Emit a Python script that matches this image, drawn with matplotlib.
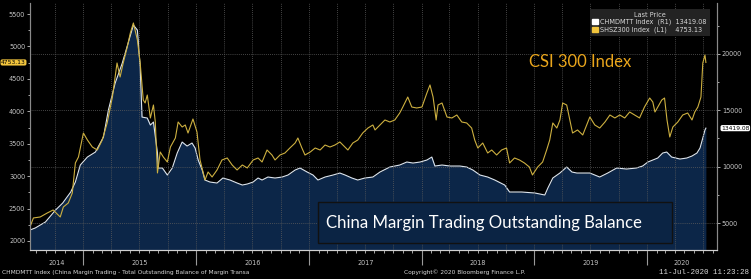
import numpy as np
import pandas as pd
import matplotlib
matplotlib.use('Agg')
import matplotlib.pyplot as plt
import matplotlib.dates as mdates
from matplotlib.patches import Patch, Rectangle
from matplotlib.ticker import MultipleLocator, NullFormatter
from matplotlib.transforms import blended_transform_factory

plt.rcParams['font.family'] = ['Liberation Sans Narrow', 'DejaVu Sans']

#### Data
csi_dates = ['2014-07-12', '2014-07-23', '2014-08-14', '2014-09-06', '2014-09-25', '2014-10-18',
             '2014-10-28', '2014-11-13', '2014-11-26', '2014-12-06', '2014-12-16', '2015-01-01',
             '2015-01-14', '2015-01-30', '2015-02-15', '2015-03-03', '2015-03-19', '2015-04-05',
             '2015-04-20', '2015-04-30', '2015-05-10', '2015-05-23', '2015-06-02', '2015-06-12',
             '2015-06-25', '2015-07-04', '2015-07-14', '2015-07-20', '2015-07-27', '2015-08-06',
             '2015-08-16', '2015-08-22', '2015-08-29', '2015-09-07', '2015-09-17', '2015-09-30',
             '2015-10-10', '2015-10-26', '2015-11-04', '2015-11-17', '2015-11-27', '2015-12-06',
             '2015-12-22', '2016-01-04', '2016-01-14', '2016-01-30', '2016-02-09', '2016-02-22',
             '2016-03-09', '2016-03-25', '2016-04-11', '2016-04-27', '2016-05-13', '2016-05-30',
             '2016-06-15', '2016-07-04', '2016-07-20', '2016-08-02', '2016-08-18', '2016-09-03',
             '2016-09-13', '2016-09-29', '2016-10-15', '2016-10-31', '2016-11-17', '2016-11-26',
             '2016-12-09', '2016-12-19', '2017-01-05', '2017-01-21', '2017-02-06', '2017-02-22',
             '2017-03-10', '2017-03-26', '2017-04-11', '2017-04-21', '2017-05-07', '2017-05-23',
             '2017-06-08', '2017-06-24', '2017-07-11', '2017-07-27', '2017-08-03', '2017-08-19',
             '2017-09-04', '2017-09-20', '2017-10-06', '2017-10-22', '2017-11-01', '2017-11-17',
             '2017-11-30', '2017-12-16', '2018-01-02', '2018-01-18', '2018-01-28', '2018-02-07',
             '2018-02-17', '2018-02-23', '2018-03-08', '2018-03-24', '2018-04-09', '2018-04-25',
             '2018-05-11', '2018-05-27', '2018-06-12', '2018-06-22', '2018-07-02', '2018-07-18',
             '2018-08-03', '2018-08-16', '2018-09-01', '2018-09-17', '2018-10-03', '2018-10-13',
             '2018-10-29', '2018-11-14', '2018-11-30', '2018-12-16', '2018-12-26', '2019-01-12',
             '2019-01-28', '2019-02-10', '2019-02-20', '2019-03-02', '2019-03-15', '2019-03-25',
             '2019-04-03', '2019-04-16', '2019-04-26', '2019-05-05', '2019-05-21', '2019-06-07',
             '2019-06-20', '2019-06-30', '2019-07-16', '2019-08-01', '2019-08-18', '2019-09-03',
             '2019-09-19', '2019-10-05', '2019-10-21', '2019-11-06', '2019-11-22', '2019-12-08',
             '2019-12-24', '2020-01-10', '2020-01-20', '2020-01-27', '2020-02-05', '2020-02-18',
             '2020-02-27', '2020-03-06', '2020-03-15', '2020-03-25', '2020-04-10', '2020-04-26',
             '2020-05-12', '2020-05-26', '2020-06-04', '2020-06-14', '2020-06-24', '2020-06-27',
             '2020-06-30', '2020-07-07', '2020-07-10']
csi_close = [2216, 2355, 2370, 2432, 2478, 2370, 2524, 2586, 2740, 3203, 3295, 3665,
             3557, 3449, 3403, 3557, 3820, 4220, 4745, 4529, 4745, 4991, 5207, 5362,
             5099, 4745, 4174, 4128, 4251, 3897, 4097, 3835, 3049, 3372, 3295, 3218,
             3449, 3588, 3835, 3758, 3789, 3665, 3881, 3681, 3249, 2941, 3064, 2987,
             3095, 3249, 3280, 3172, 3095, 3172, 3126, 3249, 3280, 3218, 3403, 3326,
             3249, 3326, 3357, 3434, 3511, 3588, 3434, 3326, 3372, 3434, 3403, 3480,
             3449, 3480, 3527, 3480, 3403, 3511, 3557, 3665, 3742, 3789, 3712, 3789,
             3866, 3835, 3866, 3974, 4066, 4220, 4066, 4051, 4066, 4282, 4406, 4220,
             3866, 4097, 4128, 3912, 3897, 3943, 3835, 3820, 3742, 3557, 3434, 3511,
             3357, 3403, 3326, 3403, 3434, 3203, 3280, 3249, 3203, 3141, 3018, 3141,
             3218, 3403, 3557, 3820, 3742, 3866, 4128, 4097, 3866, 3665, 3712, 3635,
             3789, 3912, 3789, 3742, 3835, 3943, 3897, 3943, 3897, 3989, 3943, 3897,
             4066, 4205, 4143, 3989, 4066, 4174, 4205, 3866, 3604, 3758, 3835, 3943,
             3974, 3866, 3989, 4066, 4220, 4483, 4745, 4868, 4753.13]

margin_dates = ['2014-07-12', '2014-07-29', '2014-08-31', '2014-10-03', '2014-10-26', '2014-11-21',
                '2014-12-06', '2014-12-22', '2015-01-14', '2015-02-09', '2015-03-07', '2015-03-23',
                '2015-04-14', '2015-05-07', '2015-05-26', '2015-06-12', '2015-06-25', '2015-07-04',
                '2015-07-10', '2015-07-27', '2015-08-06', '2015-08-16', '2015-08-29', '2015-09-01',
                '2015-09-14', '2015-09-30', '2015-10-16', '2015-11-01', '2015-11-17', '2015-12-03',
                '2015-12-19', '2015-12-29', '2016-01-08', '2016-01-21', '2016-01-30', '2016-02-15',
                '2016-03-09', '2016-03-28', '2016-04-20', '2016-05-13', '2016-05-30', '2016-06-15',
                '2016-07-04', '2016-07-20', '2016-08-02', '2016-08-21', '2016-09-13', '2016-10-06',
                '2016-10-25', '2016-11-17', '2016-12-03', '2016-12-26', '2017-01-14', '2017-01-30',
                '2017-02-22', '2017-03-20', '2017-04-11', '2017-04-28', '2017-05-20', '2017-06-08',
                '2017-07-01', '2017-07-27', '2017-08-19', '2017-09-20', '2017-10-22', '2017-11-14',
                '2017-12-04', '2017-12-27', '2018-01-18', '2018-02-03', '2018-02-13', '2018-03-08',
                '2018-04-03', '2018-05-05', '2018-05-27', '2018-06-16', '2018-07-09', '2018-08-03',
                '2018-08-26', '2018-09-27', '2018-10-13', '2018-11-21', '2019-01-03', '2019-02-04',
                '2019-02-14', '2019-03-02', '2019-03-25', '2019-04-16', '2019-05-03', '2019-05-19',
                '2019-06-30', '2019-08-01', '2019-08-27', '2019-09-25', '2019-10-27', '2019-11-28',
                '2019-12-18', '2020-01-04', '2020-01-20', '2020-02-05', '2020-02-21', '2020-03-05',
                '2020-03-21', '2020-04-17', '2020-05-09', '2020-05-26', '2020-06-11', '2020-06-21',
                '2020-06-30', '2020-07-07', '2020-07-10']
margin_bal = [4379, 4556, 5089, 6153, 6774, 7750, 8637, 10145, 10854, 11298, 12628, 15023,
              17418, 19192, 20966, 22563, 22119, 18837, 14402, 14314, 13693, 13959, 11209, 9879,
              9879, 9258, 9879, 11209, 12185, 11830, 12096, 11653, 10588, 9701, 8814, 8637,
              8548, 8992, 8814, 8548, 8371, 8459, 8637, 8992, 8814, 9080, 8992, 9080,
              9258, 9701, 9879, 9524, 9258, 8814, 9080, 9258, 9435, 9258, 8992, 8814,
              8992, 9080, 9524, 9967, 10145, 10411, 10322, 10411, 10588, 10854, 10056, 10145,
              10056, 10056, 9967, 9701, 9258, 9080, 8814, 8371, 7750, 7750, 7661, 7484,
              8104, 8992, 9435, 9967, 9524, 9435, 9435, 9080, 9435, 9879, 9790, 9879,
              10056, 10411, 10588, 10766, 11209, 11298, 10854, 10677, 10766, 10943, 11209, 11653,
              12540, 13250, 13419.08]

years = [2014, 2015, 2016, 2017, 2018, 2019, 2020]
csi_ticks = [2000, 2500, 3000, 3500, 4000, 4500, 5000, 5500]
margin_ticks = [5000, 10000, 15000, 20000]

#### Colours
bg = 'black'
fill_col = '#0c2648'
white_line = '#dde6f0'
gold_line = '#cdb040'
tick_col = '#c4c4c4'
grid_col = '#5c5c5c'
small = 4.7

csi_x = pd.to_datetime(csi_dates)
mar_x = pd.to_datetime(margin_dates)
x_start = pd.Timestamp('2014-07-12')
x_end = pd.Timestamp('2020-08-15')

fig = plt.figure(figsize=(7.51, 2.79), dpi=100, facecolor=bg)
ax = fig.add_axes([30 / 751, 29 / 279, 687 / 751, 247 / 279])
ax2 = ax.twinx()
ax.set_zorder(ax2.get_zorder() + 1)
ax.patch.set_visible(False)
ax2.patch.set_facecolor(bg)

# margin balance, right axis, filled
ax2.fill_between(mar_x, margin_bal, 0, color=fill_col, lw=0)
ax2.plot(mar_x, margin_bal, color=white_line, lw=0.8)
ax2.set_ylim(2604, 24525)
ax2.set_axisbelow(False)
ax2.yaxis.set_major_locator(plt.FixedLocator(margin_ticks))
ax2.yaxis.set_minor_locator(MultipleLocator(2500))
ax2.grid(axis='y', color=grid_col, ls=(0, (1, 1.5)), lw=0.6)

# CSI 300, left axis
ax.plot(csi_x, csi_close, color=gold_line, lw=0.8)
ax.set_ylim(1861, 5670)
ax.yaxis.set_major_locator(plt.FixedLocator(csi_ticks))
ax.yaxis.set_minor_locator(MultipleLocator(250))
ax.set_xlim(x_start, x_end)

# quarterly vertical grid
for q in pd.date_range('2014-10-01', '2020-07-01', freq='QS'):
    ax.axvline(q, color=grid_col, ls=(0, (1, 1.5)), lw=0.6, zorder=0.5)

ax.xaxis.set_major_locator(mdates.YearLocator())
ax.xaxis.set_minor_locator(mdates.MonthLocator())
ax.xaxis.set_major_formatter(NullFormatter())
ax.tick_params(axis='x', which='major', length=11, color='#9a9a9a', width=0.8)
ax.tick_params(axis='x', which='minor', length=2.5, color=tick_col, width=0.6)
ax.tick_params(axis='y', which='both', colors=tick_col, labelsize=small, length=2.5, width=0.6, pad=1)
ax.tick_params(axis='y', which='minor', length=1.5)
ax2.tick_params(axis='y', which='both', colors=tick_col, labelsize=small, length=2.5, width=0.6, pad=1)
ax2.tick_params(axis='y', which='minor', length=1.5)

xform = blended_transform_factory(ax.transData, ax.transAxes)
for y in years:
    a = max(pd.Timestamp(y, 1, 1), x_start)
    b = min(pd.Timestamp(y + 1, 1, 1), x_end)
    ax.text(a + (b - a) / 2, -0.053, str(y), transform=xform, ha='center', va='center',
            color=tick_col, fontsize=small)

for a in (ax, ax2):
    a.spines['top'].set_visible(False)
    a.spines['left'].set_color('#8a8a8a')
    a.spines['right'].set_color('#8a8a8a')
    a.spines['bottom'].set_color('#d0d0d0')
    for s in a.spines.values():
        s.set_linewidth(0.8)

# last value tags
ytf = blended_transform_factory(ax.transAxes, ax.transData)
ax.text(-0.006, csi_close[-1], '%.2f' % csi_close[-1], transform=ytf, ha='right', va='center',
        fontsize=4.3, color='black',
        bbox=dict(boxstyle='round,pad=0.1,rounding_size=0.3', fc='#f2c53d', ec='none'))
ytf2 = blended_transform_factory(ax2.transAxes, ax2.transData)
ax2.text(1.006, margin_bal[-1], '%.2f' % margin_bal[-1], transform=ytf2, ha='left', va='center',
         fontsize=4.3, color='black',
         bbox=dict(boxstyle='round,pad=0.1,rounding_size=0.3', fc='white', ec='none'))

# legend
handles = [Patch(color='white'), Patch(color='#f2c53d')]
labels = ['CHMDMTT Index  (R1)  %.2f' % margin_bal[-1], 'SHSZ300 Index  (L1)    %.2f' % csi_close[-1]]
leg = ax.legend(handles, labels, title='Last Price', loc='upper right', bbox_to_anchor=(0.994, 0.99),
                fontsize=small, title_fontsize=small, handlelength=0.9, handleheight=0.9,
                handletextpad=0.3, labelspacing=0.2, borderpad=0.45, frameon=True,
                facecolor='#232323', edgecolor='none', framealpha=1, labelcolor='#d8d8d8')
leg.get_title().set_color('#d8d8d8')
leg.get_frame().set_boxstyle('square', pad=0)

# annotations
ax.text(0.8006, 0.761, 'CSI 300 Index', transform=ax.transAxes, ha='center', va='center',
        color='#eaa61c', fontsize=12, family=['Lato', 'DejaVu Sans'])
ax.add_patch(Rectangle((0.419, 0.028), 0.5155, 0.166, transform=ax.transAxes,
                       fc='#0b2444', ec='#111111', lw=1.0, zorder=3))
ax.text(0.431, 0.11, 'China Margin Trading Outstanding Balance', transform=ax.transAxes,
        ha='left', va='center', color='white', fontsize=12.1, family=['Lato', 'DejaVu Sans'], zorder=4)

# footer
fig.text(2 / 751, 0.025, 'CHMDMTT Index (China Margin Trading - Total Outstanding Balance of Margin Transa',
         color='#d8d8d8', fontsize=4.2, va='center', ha='left')
fig.text(465 / 751, 0.025, 'Copyright\u00a9 2020 Bloomberg Finance L.P.', color='#d8d8d8',
         fontsize=4.2, va='center', ha='center')
fig.text(749 / 751, 0.025, '11-Jul-2020 11:23:28', color='#d8d8d8', fontsize=5.4, va='center', ha='right',
         family=['Liberation Mono', 'DejaVu Sans Mono'])

fig.savefig('out.png', dpi=100, facecolor=bg)
